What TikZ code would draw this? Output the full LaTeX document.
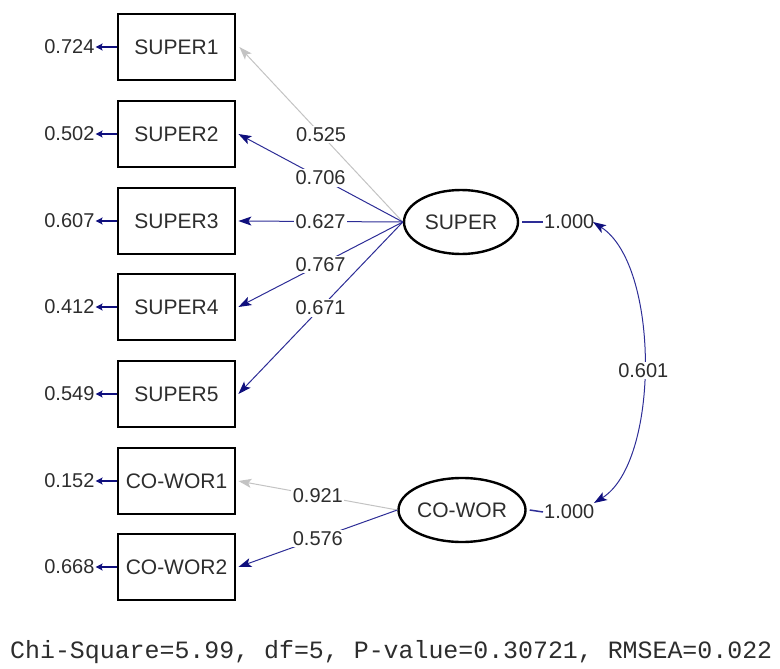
\documentclass[tikz,border=0pt]{standalone}
\usepackage{fontspec}
\setmainfont{Liberation Sans}
\setmonofont{Liberation Mono}
\usetikzlibrary{arrows.meta,shapes.geometric}
\definecolor{pathblue}{RGB}{45,45,150}
\definecolor{tipblue}{RGB}{15,15,125}
\definecolor{fixgray}{RGB}{195,195,195}
\definecolor{txt}{RGB}{45,45,45}

\begin{document}
\begin{tikzpicture}[x=1pt,y=-1pt,
  num/.style={font=\fontsize{20}{24}\selectfont, text=txt, inner sep=1pt},
  onpath/.style={num, fill=white, inner sep=1.5pt},
  obs/.style={draw, line width=2.8pt, minimum width=117pt, minimum height=66pt,
    inner sep=0pt, font=\fontsize{21}{25}\selectfont, text=txt},
  lat/.style={ellipse, draw, line width=2.4pt, minimum width=114pt, minimum height=64pt,
    inner sep=0pt, font=\fontsize{21}{25}\selectfont, text=txt},
  headblue/.style={-{Stealth[length=13pt,width=9pt,inset=3pt,color=tipblue]}},
  load/.style={draw=pathblue, line width=1pt, headblue},
  fixload/.style={draw=fixgray, line width=1pt,
    -{Stealth[length=13pt,width=9pt,inset=3pt,color=fixgray]}},
  errarr/.style={draw=tipblue, line width=2.4pt,
    -{Stealth[length=7pt,width=7pt,inset=1.5pt,color=tipblue]}},
  varline/.style={draw=pathblue, line width=1.5pt},
  cov/.style={draw=pathblue, line width=1pt,
    {Stealth[length=13pt,width=9pt,inset=3pt,color=tipblue]}-{Stealth[length=13pt,width=9pt,inset=3pt,color=tipblue]}}
]
\useasboundingbox (0,0) rectangle (780,669);

% observed indicators
\node[obs] (s1) at (176.5,47)  {SUPER1};
\node[obs] (s2) at (176.5,134) {SUPER2};
\node[obs] (s3) at (176.5,221) {SUPER3};
\node[obs] (s4) at (176.5,307) {SUPER4};
\node[obs] (s5) at (176.5,394) {SUPER5};
\node[obs] (c1) at (176.5,481) {CO-WOR1};
\node[obs] (c2) at (176.5,567) {CO-WOR2};

% latent factors
\node[lat] (sup) at (461,222) {SUPER};
\node[lat] (cow) at (462,510) {CO-WOR};

% error variances
\foreach \b/\v in {s1/0.724, s2/0.502, s3/0.607, s4/0.412, s5/0.549, c1/0.152, c2/0.668}{
  \node[num, anchor=east] (e\b) at ([xshift=-21pt]\b.west) {\v};
  \draw[errarr] (\b.west) -- (e\b.east);
}

% factor loadings
\draw[fixload] (sup.west) -- node[onpath] {0.525} ([xshift=3pt]s1.east);
\draw[load] (sup.west) -- node[onpath] {0.706} ([xshift=2pt]s2.east);
\draw[load] (sup.west) -- node[onpath] {0.627} ([xshift=2pt]s3.east);
\draw[load] (sup.west) -- node[onpath] {0.767} ([xshift=2pt]s4.east);
\draw[load] (sup.west) -- node[onpath] {0.671} ([xshift=2pt]s5.east);
\draw[fixload] (cow.west) -- node[onpath] {0.921} ([xshift=2pt]c1.east);
\draw[load] (cow.west) -- node[onpath] {0.576} ([xshift=2pt]c2.east);

% factor variances
\node[num, anchor=west] (vs) at (543,222) {1.000};
\node[num, anchor=west] (vc) at (543,512) {1.000};
\draw[varline] ([xshift=3pt]sup.east) -- (vs.west);
\draw[varline] ([xshift=3pt]cow.east) -- (vc.west);

% factor covariance
\coordinate (ct) at (593,222);
\coordinate (cb) at (594,503);
\draw[cov] (ct) .. controls (660,265) and (660,462) .. node[onpath, pos=0.52] (cv) {0.601} (cb);

% fit statistics
\node[font=\ttfamily\fontsize{24.9}{28}\selectfont, text=txt, anchor=west, inner sep=0pt] (fit)
  at (10,652) {Chi-Square=5.99, df=5, P-value=0.30721, RMSEA=0.022};
\end{tikzpicture}
\end{document}
